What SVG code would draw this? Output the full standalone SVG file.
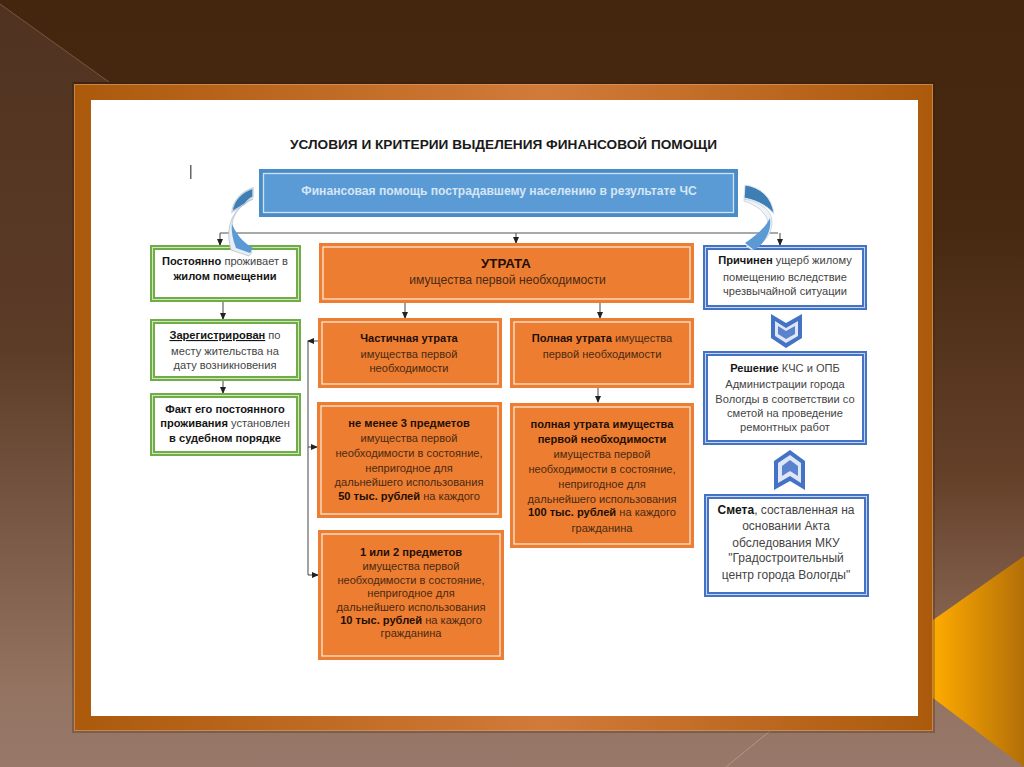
<svg xmlns="http://www.w3.org/2000/svg" width="1024" height="767" viewBox="0 0 1024 767">
<defs>
<linearGradient id="bg" x1="0" y1="0" x2="0" y2="1"><stop offset="0" stop-color="#44260f"/><stop offset="0.3" stop-color="#472912"/><stop offset="0.62" stop-color="#644029"/><stop offset="0.9" stop-color="#947361"/><stop offset="1" stop-color="#97786a"/></linearGradient>
<linearGradient id="side" x1="0" y1="0" x2="0" y2="1"><stop offset="0" stop-color="#4f3320"/><stop offset="0.45" stop-color="#5c3b27"/><stop offset="0.9" stop-color="#947361"/><stop offset="1" stop-color="#97786a"/></linearGradient>
<linearGradient id="gold" x1="0" y1="0" x2="1" y2="0"><stop offset="0" stop-color="#ffab00"/><stop offset="1" stop-color="#b36f08"/></linearGradient>
<linearGradient id="frame" x1="0" y1="0" x2="1" y2="0"><stop offset="0" stop-color="#ab5a0c"/><stop offset="0.55" stop-color="#d27a3a"/><stop offset="1" stop-color="#ab5a0c"/></linearGradient>
<marker id="arr" markerWidth="7" markerHeight="6" refX="6" refY="3" orient="auto" markerUnits="userSpaceOnUse"><path d="M0 0L7 3L0 6Z" fill="#222"/></marker>
</defs>
<style>
text{font-family:"Liberation Sans",Arial,sans-serif;font-size:11.100px;text-anchor:middle;fill:#444}
.b{font-weight:bold;fill:#151515}
.o text{fill:#4a2a12}
.o .b{fill:#1f0f05}
.onode{fill:#ed7d31;stroke:#ed7d31;stroke-width:4}
.oin{fill:none;stroke:#fbe5d6;stroke-width:1.300}
.gn{fill:#fff;stroke:#70ad47;stroke-width:5}
.gin{fill:none;stroke:#cfe5bf;stroke-width:1}
.bn{fill:#fff;stroke:#4472c4;stroke-width:5}
.bin{fill:none;stroke:#c5d3ec;stroke-width:1}
.ln{fill:none;stroke:#555;stroke-width:1.100;marker-end:url(#arr)}
.pl{fill:none;stroke:#555;stroke-width:1.100}
.s{font-size:12px}
</style>
<rect width="1024" height="767" fill="url(#bg)"/>
<path d="M0 4L109 82H74V767H0Z" fill="url(#side)"/>
<path d="M0 4L109 82" stroke="#77583f" stroke-width="1" fill="none"/>
<path d="M770 731L726 767" stroke="#b2968a" stroke-width="1" fill="none"/>
<path d="M1024 556V767L933 698V620Z" fill="url(#gold)"/>
<rect x="72" y="82" width="863" height="651" fill="#2e1808" opacity="0.25"/>
<rect x="74" y="84" width="859" height="647" fill="url(#frame)"/>
<rect x="74.500" y="84.500" width="858" height="646" fill="none" stroke="#e0a070" stroke-width="1" opacity="0.6"/>
<rect x="91" y="100" width="827" height="616" fill="#fff"/>
<text x="503.500" y="149" style="font-size:13.650px;font-weight:bold;fill:#1a1a1a">УСЛОВИЯ И КРИТЕРИИ ВЫДЕЛЕНИЯ ФИНАНСОВОЙ ПОМОЩИ</text>
<rect x="190" y="165" width="1.500" height="14" fill="#666"/>
<g id="connectors">
<path class="pl" d="M220 233H778"/>
<path class="ln" d="M220 233V245"/>
<path class="ln" d="M516 233V243"/>
<path class="ln" d="M780 233V245"/>
<path class="ln" d="M223 302V319"/>
<path class="ln" d="M223 381V393"/>
<path class="ln" d="M405 303V318"/>
<path class="ln" d="M600 303V318"/>
<path class="ln" d="M598 388V402"/>
<path class="pl" d="M308 341V575"/>
<path class="ln" d="M318 341H308"/>
<path class="ln" d="M308 447H317"/>
<path class="ln" d="M308 575H318"/>
</g>
<g id="main"><rect x="261" y="171" width="475" height="44" fill="#5b9bd5" stroke="#4a8cc8" stroke-width="4"/><rect x="263.500" y="173.500" width="470" height="39" fill="none" stroke="#cfe2f3" stroke-width="1.300"/><text x="499" y="195" style="font-weight:bold;fill:#d5e6f5;font-size:12.100px">Финансовая помощь пострадавшему населению в результате ЧС</text></g>
<g id="g1"><rect x="152.500" y="247.500" width="146" height="52" class="gn"/><rect x="152.500" y="247.500" width="146" height="52" class="gin"/><text x="225" y="265"><tspan class="b">Постоянно</tspan> проживает в</text><text x="225" y="280" class="b">жилом помещении</text></g>
<g id="g2"><rect x="152.500" y="321.500" width="146" height="57" class="gn"/><rect x="152.500" y="321.500" width="146" height="57" class="gin"/><text x="225" y="339"><tspan class="b" text-decoration="underline">Зарегистрирован</tspan> по</text><text x="225" y="355">месту жительства на</text><text x="225" y="369">дату возникновения</text></g>
<g id="g3"><rect x="152.500" y="395.500" width="146" height="58" class="gn"/><rect x="152.500" y="395.500" width="146" height="58" class="gin"/><text x="225" y="413" class="b">Факт его постоянного</text><text x="225" y="427"><tspan class="b">проживания</tspan> установлен</text><text x="225" y="442" class="b">в судебном порядке</text></g>
<g id="o0" class="o"><rect x="321" y="245" width="371" height="56" class="onode"/><rect x="323" y="247" width="367" height="52" class="oin"/><text x="506" y="268" class="b" style="font-size:13.300px">УТРАТА</text><text x="507.500" y="284" style="font-size:12.200px">имущества первой необходимости</text></g>
<g id="o1" class="o"><rect x="320" y="320" width="180" height="66" class="onode"/><rect x="322" y="322" width="176" height="62" class="oin"/><text x="409" y="342" class="b">Частичная утрата</text><text x="409" y="358">имущества первой</text><text x="409" y="372">необходимости</text></g>
<g id="o2" class="o"><rect x="512" y="320" width="180" height="66" class="onode"/><rect x="514" y="322" width="176" height="62" class="oin"/><text x="602" y="342"><tspan class="b">Полная утрата</tspan> имущества</text><text x="602" y="358">первой необходимости</text></g>
<g id="o3" class="o"><rect x="319" y="404" width="181" height="112" class="onode"/><rect x="321" y="406" width="177" height="108" class="oin"/><text x="409" y="427" class="b">не менее 3 предметов</text><text x="409" y="442">имущества первой</text><text x="409" y="457">необходимости в состояние,</text><text x="409" y="472">непригодное для</text><text x="409" y="486">дальнейшего использования</text><text x="409" y="500"><tspan class="b">50 тыс. рублей</tspan> на каждого</text></g>
<g id="o4" class="o"><rect x="512" y="405" width="180" height="141" class="onode"/><rect x="514" y="407" width="176" height="137" class="oin"/><text x="602" y="428" class="b">полная утрата имущества</text><text x="602" y="443" class="b">первой необходимости</text><text x="602" y="458">имущества первой</text><text x="602" y="473">необходимости в состояние,</text><text x="602" y="488">непригодное для</text><text x="602" y="503">дальнейшего использования</text><text x="602" y="516"><tspan class="b">100 тыс. рублей</tspan> на каждого</text><text x="602" y="532">гражданина</text></g>
<g id="o5" class="o"><rect x="320" y="532" width="182" height="126" class="onode"/><rect x="322" y="534" width="178" height="122" class="oin"/><text x="411" y="556" class="b">1 или 2 предметов</text><text x="411" y="570">имущества первой</text><text x="411" y="584">необходимости в состояние,</text><text x="411" y="597">непригодное для</text><text x="411" y="611">дальнейшего использования</text><text x="411" y="624"><tspan class="b">10 тыс. рублей</tspan> на каждого</text><text x="411" y="637">гражданина</text></g>
<g id="b1"><rect x="705.500" y="247.500" width="159" height="60" class="bn"/><rect x="705.500" y="247.500" width="159" height="60" class="bin"/><text x="785" y="264"><tspan class="b">Причинен</tspan> ущерб жилому</text><text x="785" y="281">помещению вследствие</text><text x="785" y="295">чрезвычайной ситуации</text></g>
<g id="b2"><rect x="705.500" y="353.500" width="159" height="89" class="bn"/><rect x="705.500" y="353.500" width="159" height="89" class="bin"/><text x="785" y="372"><tspan class="b">Решение</tspan> КЧС и ОПБ</text><text x="785" y="388">Администрации города</text><text x="785" y="403">Вологды в соответствии со</text><text x="785" y="417">сметой на проведение</text><text x="785" y="431">ремонтных работ</text></g>
<g id="b3"><rect x="706.500" y="496.500" width="160" height="98" class="bn"/><rect x="706.500" y="496.500" width="160" height="98" class="bin"/><text x="786" y="514" class="s"><tspan class="b">Смета</tspan>, составленная на</text><text x="786" y="530" class="s">основании Акта</text><text x="786" y="547" class="s">обследования МКУ</text><text x="786" y="562" class="s">"Градостроительный</text><text x="786" y="579" class="s">центр города Вологды"</text></g>
<g id="chev1"><path d="M771 314L786 323L802 314V338L786 348L771 338Z" fill="#4472c4"/><path d="M775 321L786 328L798 321V336L786 343L775 336Z" fill="#dfe7f6"/><path d="M778 326L786 331L795 326V334L786 339L778 334Z" fill="#5b82cf"/></g>
<g id="chev2"><path d="M774 461L790 450L805 461V490L790 481L774 490Z" fill="#4472c4"/><path d="M778 463L790 455L801 463V483L790 476L778 483Z" fill="#dfe7f6"/><path d="M782 466L790 460L798 466V476L790 471L782 476Z" fill="#5b82cf"/></g>
<g id="swoosh-left"><path d="M253 188C241 192 233 201 232 212L245 204C248 200 250 198 253 197Z" fill="#3f7db5" stroke="#c8d5e0" stroke-width="1.500"/><path d="M253 199C236 206 228 222 234 236C238 245 246 250 252 252L249 256L231 250C226 232 228 210 253 199Z" fill="#e8eef4" stroke="#b5c0ca" stroke-width="0.800"/><path d="M232 224C238 238 246 244 253 248L250 253L236 248C233 240 231 232 232 224Z" fill="#5b9bd5"/></g>
<g id="swoosh-right"><path d="M745 185C760 187 772 197 774 214C768 206 756 200 744 198Z" fill="#3f7db5" stroke="#dde6ee" stroke-width="1"/><path d="M744 199C760 202 772 210 772 222C772 236 762 244 752 250L746 246C756 240 766 232 768 222C766 212 756 205 744 201Z" fill="#eef3f7" stroke="#c4ced8" stroke-width="0.800"/><path d="M770 218C772 232 764 244 754 250L745 243L752 238C760 232 766 226 770 218Z" fill="#5b9bd5"/></g>
</svg>
